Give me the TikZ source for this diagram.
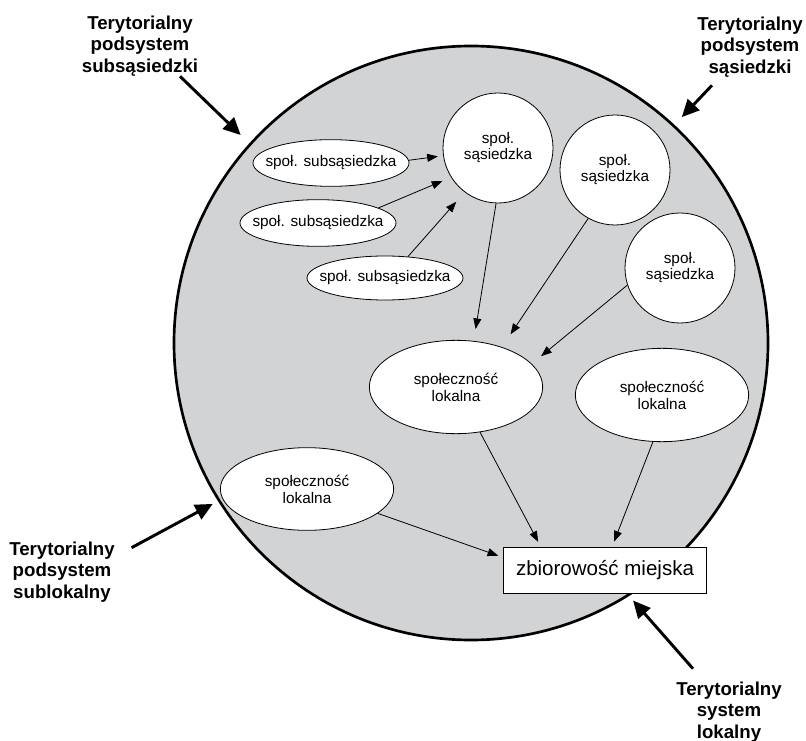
\documentclass[tikz,border=0pt]{standalone}
\usepackage{fontspec}
\setmainfont{Liberation Sans}
\usetikzlibrary{arrows.meta,shapes.geometric}
\definecolor{discgray}{RGB}{209,211,212}
\tikzset{
    disc/.style={circle, draw, line width=2pt, fill=discgray, minimum size=445.5pt, inner sep=0pt},
    subhood/.style={ellipse, draw, line width=0.6pt, fill=white, minimum width=117pt, minimum height=35pt, inner ysep=0pt, inner xsep=-8pt, font=\fontsize{11.5}{12}\selectfont},
    hood/.style={circle, draw, line width=0.6pt, fill=white, minimum size=82.5pt, inner sep=0pt, align=center, font=\fontsize{11.5}{12}\selectfont},
    local/.style={ellipse, draw, line width=0.6pt, fill=white, minimum width=130pt, minimum height=70pt, inner sep=0pt, align=center, font=\fontsize{11.5}{12.75}\selectfont},
    city/.style={rectangle, draw, line width=0.6pt, fill=white, minimum width=152pt, minimum height=34.5pt, inner sep=0pt, font=\fontsize{15.4}{18}\selectfont},
    tag/.style={align=center, inner sep=0pt, font=\bfseries\fontsize{14}{16}\selectfont},
    arr/.style={-{Triangle[length=8pt,width=6pt]}, line width=0.6pt},
    bigarr/.style={-{Triangle[length=13pt,width=12pt]}, line width=2.2pt},
}
\begin{document}
\begin{tikzpicture}[x=0.75pt,y=-0.75pt]
        \useasboundingbox (0,0) rectangle (806,741);
        \node[disc](W) at (471,343) {};
        \node[subhood](S1) at (331,163) {społ. subsąsiedzka};
        \node[subhood](S2) at (318,223) {społ. subsąsiedzka};
        \node[subhood, minimum height=33pt](S3) at (385,278) {społ. subsąsiedzka};
        \node[hood](N1) at (498,148) {społ.\\sąsiedzka};
        \node[hood](N2) at (615,170) {społ.\\sąsiedzka};
        \node[hood](N3) at (680,268) {społ.\\sąsiedzka};
        \node[local](L1) at (456,387) {społeczność\\lokalna};
        \node[local](L2) at (662,395) {społeczność\\lokalna};
        \node[local, minimum height=62pt](L3) at (307,489) {społeczność\\lokalna};
        \node[city](Z) at (605,570) {zbiorowość miejska};
        \node[tag](T1) at (140,46)  {Terytorialny\\podsystem\\subsąsiedzki};
        \node[tag](T2) at (750,47)  {Terytorialny\\podsystem\\sąsiedzki};
        \node[tag](T3) at (62,572)  {Terytorialny\\podsystem\\sublokalny};
        \node[tag](T4) at (729,712) {Terytorialny\\system\\lokalny};
        \path
            (S1.2)   edge [arr, shorten >=4pt]    (N1.188)
            (S2.14)  edge [arr, shorten >=7pt]    (N1.212)
            (S3.43)  edge [arr, shorten >=9.5pt]  (N1.233)
            (N1.268) edge [arr, shorten >=9pt]    (L1.69)
            (N2.241) edge [arr, shorten >=11.5pt] (L1.41)
            (N3.198) edge [arr, shorten >=9pt]    (L1.17)
            (L1.298) edge [arr, shorten >=4pt]    (Z.160)
            (L2.259) edge [arr, shorten >=4pt]    (Z.73)
            (L3.341) edge [arr, shorten >=4pt]    (Z.173)
            ;
        \path
            ([xshift=30pt]T1.south)                 edge [bigarr, shorten >=9pt]   (W.138)
            ([shift={(-28.5pt,-6pt)}]T2.south)      edge [bigarr, shorten >=8pt]   (W.47)
            ([shift={(12.4pt,-4.5pt)}]T3.north east) edge [bigarr, shorten >=4.5pt] (W.212)
            ([shift={(-27pt,9.75pt)}]T4.north)      edge [bigarr, shorten >=4.5pt] (W.302)
            ;
    \end{tikzpicture}
\end{document}
